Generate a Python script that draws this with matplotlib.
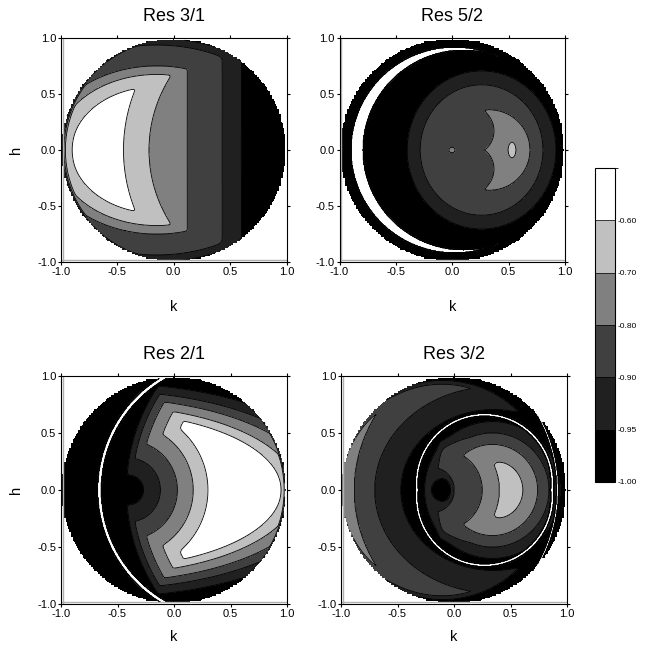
import numpy as np
import matplotlib
matplotlib.use('Agg')
import matplotlib.pyplot as plt
from matplotlib.colors import ListedColormap, BoundaryNorm
from matplotlib.cm import ScalarMappable

plt.rcParams['font.family'] = ['Liberation Sans', 'DejaVu Sans']

# contour levels and the grey used above each one
LEVELS = [-1.00, -0.95, -0.90, -0.80, -0.70, -0.60]
GRAYS = ['#000000', '#202020', '#404040', '#808080', '#c0c0c0', '#ffffff']
TITLES = ['Res 3/1', 'Res 5/2', 'Res 2/1', 'Res 3/2']

# A ramp is (kind, centres, sx, sy, radii): distances at which the map crosses
# the levels -0.60 ... -0.95 ('down') or -0.95 ... -0.60 ('up').
# A lobe is the intersection of its ramps, a map is the union of its lobes.
RES31_LOBES = [
    [('up', [(1.0, 0.0)], 1.0, 1.0, [0.35, 0.50, 0.80, 1.22, 1.446]),
     ('down', [(-0.15, 0.0)], 1.0, 0.75, [0.755, 0.90, 1.00, 1.25, 1.33]),
     ('down', [(-3.0, 0.0)], 1.0, 100.0, [2.80, 3.00, 3.12, 3.43, 3.60]),
     ('down', [(0.0, 0.0)], 1.0, 1.0, [0.915, 0.962, 0.975, 0.985, 0.992])],
]
RES52_LOBES = [
    [('down', [(0.26, 0.0)], 1.0, 1.07, [-0.03, -0.02, -0.01, 0.545, 0.66])],
    [('down', [(0.33, 0.0)], 1.0, 1.0, [-0.02, -0.01, 0.36, 0.45, 0.50]),
     ('up', [(0.15, 0.17), (0.15, -0.17)], 1.0, 1.0, [0.05, 0.10, 0.22, 0.35, 0.45])],
    [('down', [(0.53, 0.0)], 1.0, 2.0, [-0.01, 0.035, 0.05, 0.06, 0.07])],
    [('down', [(0.0, 0.0)], 1.0, 1.0, [-0.03, -0.02, 0.025, 0.03, 0.035])],
]
RES21_LOBES = [
    [('up', [(-0.40, 0.0)], 1.0, 1.0, [0.13, 0.28, 0.43, 0.57, 0.70]),
     ('down', [(-0.63, 0.0)], 1.0, 0.43, [1.58, 1.716, 1.875, 2.018, 2.18]),
     ('down', [(1.20, 0.0)], 1.0, 1.0, [1.27, 1.39, 1.50, 1.57, 1.62]),
     ('down', [(0.0, 0.0)], 1.0, 1.0, [0.965, 0.975, 0.982, 0.988, 0.992])],
]
RES32_LOBES = [
    [('up', [(-0.20, 0.0)], 1.0, 1.0, [0.17, 0.20, 5.0, 6.0, 7.0]),
     ('down', [(0.20, 0.0)], 1.0, 0.8, [-0.03, -0.02, -0.01, 0.57, 0.62]),
     ('down', [(1.20, 0.0)], 1.0, 1.0, [1.00, 1.10, 1.20, 1.371, 1.39])],
    [('up', [(-0.10, 0.0)], 1.0, 1.0, [0.10, 0.20, 0.35, 0.50, 5.0]),
     ('down', [(0.34, 0.0)], 1.0, 1.0, [-0.01, 0.28, 0.40, 0.50, 0.60])],
    [('up', [(0.35, 0.0)], 1.0, 1.0, [1.20, 1.21, 1.23, 5.0, 6.0]),
     ('down', [(-0.10, 0.0)], 1.0, 1.0, [0.80, 0.85, 0.90, 0.93, 0.96])],
    [('up', [(0.35, 0.0)], 1.0, 0.86, [0.82, 1.05, 5.0, 6.0, 7.0]),
     ('down', [(-0.10, 0.0)], 1.0, 1.0, [0.80, 0.85, 0.90, 0.93, 0.96])],
]

# thin unstable strips: (outer centres, outer radius, inner centres, inner radius)
RES31_STRIPS = []
RES52_STRIPS = [([(0.02, 0.0)], 0.92, [(0.10, 0.0)], 0.89)]
RES21_STRIPS = [([(0.475, 0.0)], 1.152, [(0.475, 0.0)], 1.117)]
RES32_STRIPS = [([(0.27, 0.06), (0.27, -0.06)], 0.613, [(0.27, 0.06), (0.27, -0.06)], 0.587),
                ([(-0.42, 0.0)], 1.346, [(-0.42, 0.0)], 1.326)]

PANELS = [(RES31_LOBES, RES31_STRIPS), (RES52_LOBES, RES52_STRIPS),
          (RES21_LOBES, RES21_STRIPS), (RES32_LOBES, RES32_STRIPS)]

TAU = 0.006


def dist(K, H, centres, sx, sy):
    d = [np.hypot((K - kc) / sx, (H - hc) / sy) for kc, hc in centres]
    return np.min(d, axis=0)


def ramp(K, H, kind, centres, sx, sy, radii):
    d = dist(K, H, centres, sx, sy)
    xp = [radii[0] - 1.0] + list(radii) + [radii[-1] + 1.0]
    if kind == 'down':
        fp = [-0.1, -0.60, -0.70, -0.80, -0.90, -0.95, -1.45]
    else:
        fp = [-1.45, -0.95, -0.90, -0.80, -0.70, -0.60, -0.1]
    return np.interp(d, xp, fp)


def smooth(arrs, sign):
    a = sign * np.stack(arrs)
    m = a.max(axis=0)
    return sign * (m + TAU * np.log(np.exp((a - m) / TAU).sum(axis=0)))


def build_map(K, H, lobes, strips):
    parts = [smooth([ramp(K, H, *r) for r in lobe], -1) for lobe in lobes]
    for c_out, r_out, c_in, r_in in strips:
        inside = (dist(K, H, c_out, 1, 1) < r_out) & (dist(K, H, c_in, 1, 1) > r_in)
        parts.append(np.where(inside, -0.5, -2.0))
    return smooth(parts, 1) if len(parts) > 1 else parts[0]


n = 401
kk = np.linspace(-1, 1, n)
K, H = np.meshgrid(kk, kk)
# the maps were sampled on a 0.01 grid inside the unit circle
Kq, Hq = np.round(K / 0.01) * 0.01, np.round(H / 0.01) * 0.01
outside = np.hypot(Kq, Hq) > 0.99

cmap = ListedColormap(GRAYS)
bounds = [-5.0, -0.95, -0.90, -0.80, -0.70, -0.60, 5.0]

fig = plt.figure(figsize=(6.66, 6.5), dpi=100)
boxes = [(61, 38, 225.5, 224), (339.5, 38, 225.5, 224),
         (61, 376, 226, 228), (341, 376, 226, 228)]
xlabel_pads = [17, 17, 8, 8]

for i, ((lobes, strips), title, (x0, y0, w, h)) in enumerate(zip(PANELS, TITLES, boxes)):
    ax = fig.add_axes([x0 / 666, 1 - (y0 + h) / 650, w / 666, h / 650])
    Z = np.ma.masked_array(build_map(K, H, lobes, strips), mask=outside)
    ax.contourf(K, H, Z, levels=bounds, colors=GRAYS)
    ax.contour(K, H, Z, levels=LEVELS[1:], colors='k', linewidths=0.6,
               linestyles='solid')
    ax.axvline(-0.985, color='#b0b0b0', lw=1.0)
    ax.axhline(-0.985, color='#b0b0b0', lw=1.0)
    ax.set_xlim(-1, 1)
    ax.set_ylim(-1, 1)
    ticks = [-1.0, -0.5, 0.0, 0.5, 1.0]
    ax.set_xticks(ticks)
    ax.set_yticks(ticks)
    ax.set_xticklabels([f'{t:.1f}' for t in ticks])
    ax.set_yticklabels([f'{t:.1f}' for t in ticks])
    ax.tick_params(direction='out', length=2.5, width=0.8, top=True, right=True,
                   labelsize=8, pad=1)
    for s in ax.spines.values():
        s.set_linewidth(0.8)
    ax.set_title(title, fontsize=13, pad=12)
    ax.set_xlabel('k', fontsize=10.5, labelpad=xlabel_pads[i])
    if i % 2 == 0:
        ax.set_ylabel('h', fontsize=10.5, labelpad=10)

cax = fig.add_axes([595 / 666, 1 - 482 / 650, 20 / 666, 314 / 650])
cb_bounds = [-1.0, -0.95, -0.90, -0.80, -0.70, -0.60, -0.50]
sm = ScalarMappable(norm=BoundaryNorm(cb_bounds, cmap.N), cmap=cmap)
cb = fig.colorbar(sm, cax=cax, boundaries=cb_bounds, spacing='uniform', ticks=LEVELS)
cb.ax.set_yticklabels([f'{v:.2f}' for v in LEVELS])
cb.ax.tick_params(labelsize=6, length=0, pad=2)
cb.outline.set_linewidth(0.8)
cb.ax.hlines(LEVELS[1:], 0, 1, transform=cb.ax.get_yaxis_transform(), colors='k', lw=0.5)

fig.savefig('out.png', dpi=100)
